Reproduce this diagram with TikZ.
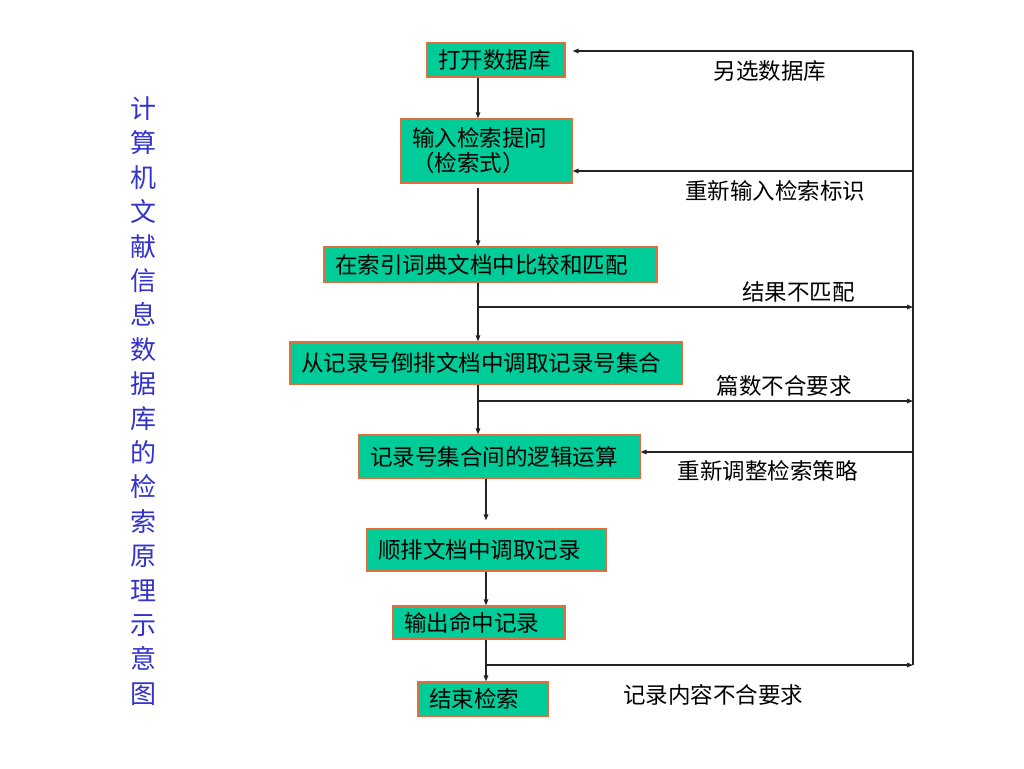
\documentclass[tikz,border=0pt]{standalone}
\usepackage{fontspec}
\setmainfont{Noto Sans CJK SC}
\usetikzlibrary{arrows.meta}
\definecolor{boxc}{RGB}{0,204,153}
\definecolor{bordc}{RGB}{225,110,60}
\definecolor{titlec}{RGB}{51,51,204}
\definecolor{linec}{RGB}{35,35,35}
\begin{document}
\begin{tikzpicture}[x=1pt,y=-1pt,
  box/.style={draw=bordc, fill=boxc, line width=1.2pt, inner xsep=11pt, inner ysep=0pt,
    align=left, font=\fontsize{22.5}{25}\selectfont},
  lbl/.style={font=\fontsize{22.5}{25}\selectfont, inner sep=0pt},
  arr/.style={-{Triangle[length=6pt,width=4.5pt]}, line width=1.3pt, draw=linec},
  ln/.style={line width=1.3pt, draw=linec}]
\useasboundingbox (0,0) rectangle (1024,768);
\fill[white] (0,0) rectangle (1024,768);

% title
\node[font=\fontsize{26}{34.4}\selectfont, text=titlec, align=center, inner sep=0pt] (title) at (143,401)
  {计\\算\\机\\文\\献\\信\\息\\数\\据\\库\\的\\检\\索\\原\\理\\示\\意\\图};

% boxes
\node[box, text width=116pt, minimum height=34pt] (b1) at (496,60) {打开数据库};
\node[box, text width=149pt, minimum height=64pt] (b2) at (486.5,151) {输入检索提问\\（检索式）};
\node[box, text width=311pt, minimum height=35pt] (b3) at (490.5,264.5) {在索引词典文档中比较和匹配};
\node[box, text width=370pt, minimum height=42pt] (b4) at (486,363) {从记录号倒排文档中调取记录号集合};
\node[box, text width=259pt, minimum height=43pt] (b5) at (499.5,456.5) {记录号集合间的逻辑运算};
\node[box, text width=217pt, minimum height=42pt] (b6) at (486.5,550) {顺排文档中调取记录};
\node[box, text width=150pt, minimum height=33pt] (b7) at (479,622.5) {输出命中记录};
\node[box, text width=108pt, minimum height=34pt] (b8) at (483,699) {结束检索};

% labels
\node[lbl] (l1) at (770,71) {另选数据库};
\node[lbl] (l2) at (775,191) {重新输入检索标识};
\node[lbl] (l3) at (798.5,292) {结果不匹配};
\node[lbl] (l4) at (784,386) {篇数不合要求};
\node[lbl] (l5) at (767.5,471) {重新调整检索策略};
\node[lbl] (l6) at (713,695) {记录内容不合要求};

% helper coordinates
\coordinate (xa) at (478,0);
\coordinate (xb) at (486,0);
\coordinate (rt) at (913,51);
\coordinate (r2) at (913,171);
\coordinate (r5) at (913,452);
\coordinate (rb) at (913,665);
\coordinate (s1) at (478,307);
\coordinate (s2) at (478,401);
\coordinate (s3) at (486,665);

% main flow
\draw[arr] (b1.south -| xa) -- (b2.north -| xa);
\draw[arr, shorten <=4pt] (b2.south -| xa) -- (b3.north -| xa);
\draw[arr] (b3.south -| xa) -- (b4.north -| xa);
\draw[arr] (b4.south -| xa) -- (b5.north -| xa);
\draw[arr, shorten >=8pt] (b5.south -| xb) -- (b6.north -| xb);
\draw[arr] (b6.south -| xb) -- (b7.north -| xb);
\draw[arr] (b7.south -| xb) -- (b8.north -| xb);

% feedback loop
\draw[ln] (rb) -- (rt);
\draw[arr, shorten >=7pt] (rt) -- (b1.east |- rt);
\draw[arr] (r2) -- (b2.east |- r2);
\draw[arr] (r5) -- (b5.east |- r5);
\draw[arr] (s1) -- (s1 -| rt);
\draw[arr] (s2) -- (s2 -| rt);
\draw[arr] (s3) -- (s3 -| rt);
\end{tikzpicture}
\end{document}
